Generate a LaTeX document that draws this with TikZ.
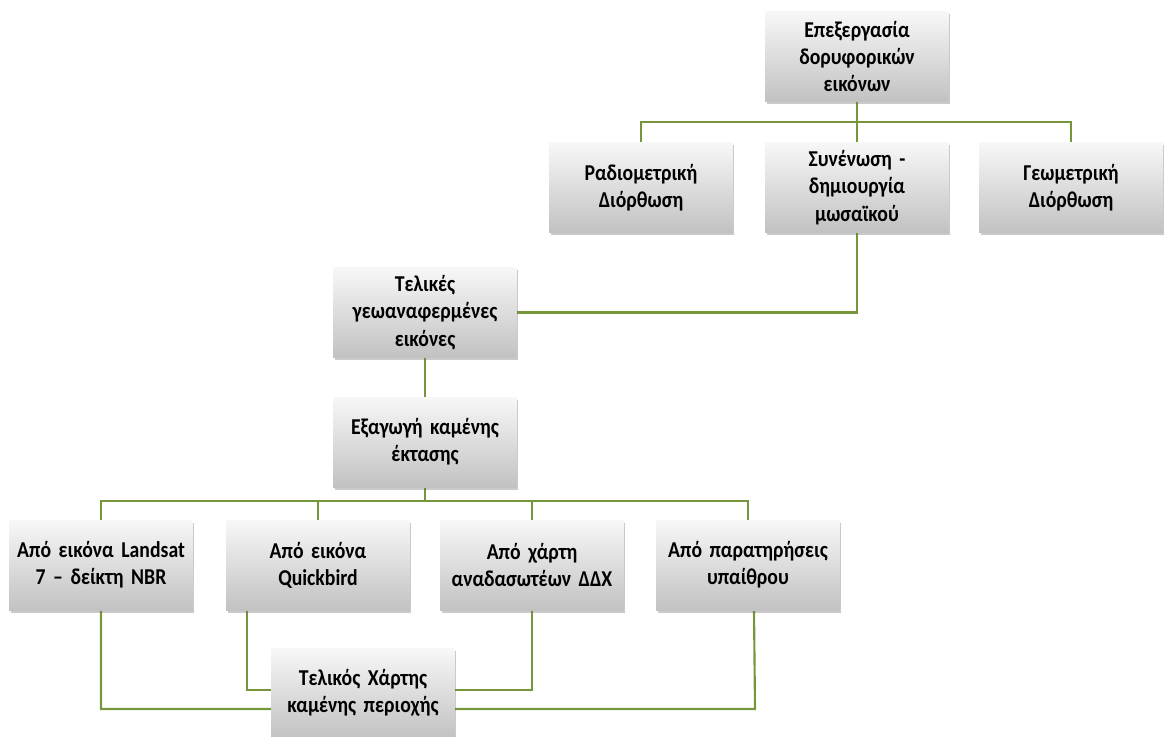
\documentclass[tikz,border=0pt]{standalone}
\usepackage{fontspec}
\setmainfont{Carlito}
\newfontfamily\boxfont[FakeStretch=0.87]{Carlito}
\newcommand\boxtext{\boxfont\fontsize{17}{20.5}\selectfont\bfseries\spaceskip=0.17em plus 0.05em\relax}
\usetikzlibrary{shadows,backgrounds}
\definecolor{linkgreen}{RGB}{119,150,60}
\tikzset{
  stagebox/.style={rectangle, minimum width=133.5pt, minimum height=67.5pt, text width=131pt, align=center,
    top color=white!97!black, bottom color=black!24, draw=none,
    drop shadow={shadow xshift=1.2pt, shadow yshift=-2.2pt, opacity=0.35, fill=black!60},
    font=\boxtext},
  link/.style={draw=linkgreen, line width=1.6pt}
}
\begin{document}
\begin{tikzpicture}[x=0.75pt,y=0.75pt,yscale=-1]
\useasboundingbox (0,0) rectangle (1166,736);

% Boxes
\node[stagebox] (proc) at (857,56.5) {Επεξεργασία\\δορυφορικών\\εικόνων};
\node[stagebox] (radio) at (641,187.5) {Ραδιομετρική\\Διόρθωση};
\node[stagebox] (mosaic) at (857,187.5) {Συνένωση -\\δημιουργία\\μωσαϊκού};
\node[stagebox] (geom) at (1071,187.5) {Γεωμετρική\\Διόρθωση};
\node[stagebox] (georef) at (425,312.5) {Τελικές\\γεωαναφερμένες\\εικόνες};
\node[stagebox] (extract) at (425,442) {Εξαγωγή καμένης\\έκτασης};
\node[stagebox] (landsat) at (101,565) {Από εικόνα Landsat\\7 – δείκτη NBR};
\node[stagebox] (quick) at (318,565) {Από εικόνα\\Quickbird};
\node[stagebox] (map) at (532,565) {Από χάρτη\\αναδασωτέων ΔΔΧ};
\node[stagebox] (field) at (748,565) {Από παρατηρήσεις\\υπαίθρου};
\node[stagebox] (final) at (363,693) {Τελικός Χάρτης\\καμένης περιοχής};

% Connectors
\coordinate (topbus) at (857,122);
\coordinate (lowbus) at (425,501);
\coordinate (quickfoot) at (247,610);
\coordinate (fieldfoot) at (754,610);
\begin{scope}[on background layer]
\draw[link] (proc.south) -- (mosaic.north);
\draw[link] (radio.north) |- (topbus) -| (geom.north);
\draw[link] (mosaic.south) |- (georef.east);
\draw[link] (georef.south) -- (extract.north);
\draw[link] (extract.south) -- (lowbus);
\draw[link] (landsat.north) |- (lowbus) -| (field.north);
\draw[link] (lowbus -| quick.north) -- (quick.north);
\draw[link] (lowbus -| map.north) -- (map.north);
\draw[link] (landsat.south) |- (755,709) -- (fieldfoot);
\draw[link] (quickfoot) |- (532,690) -- (map.south);
\end{scope}
\end{tikzpicture}
\end{document}
